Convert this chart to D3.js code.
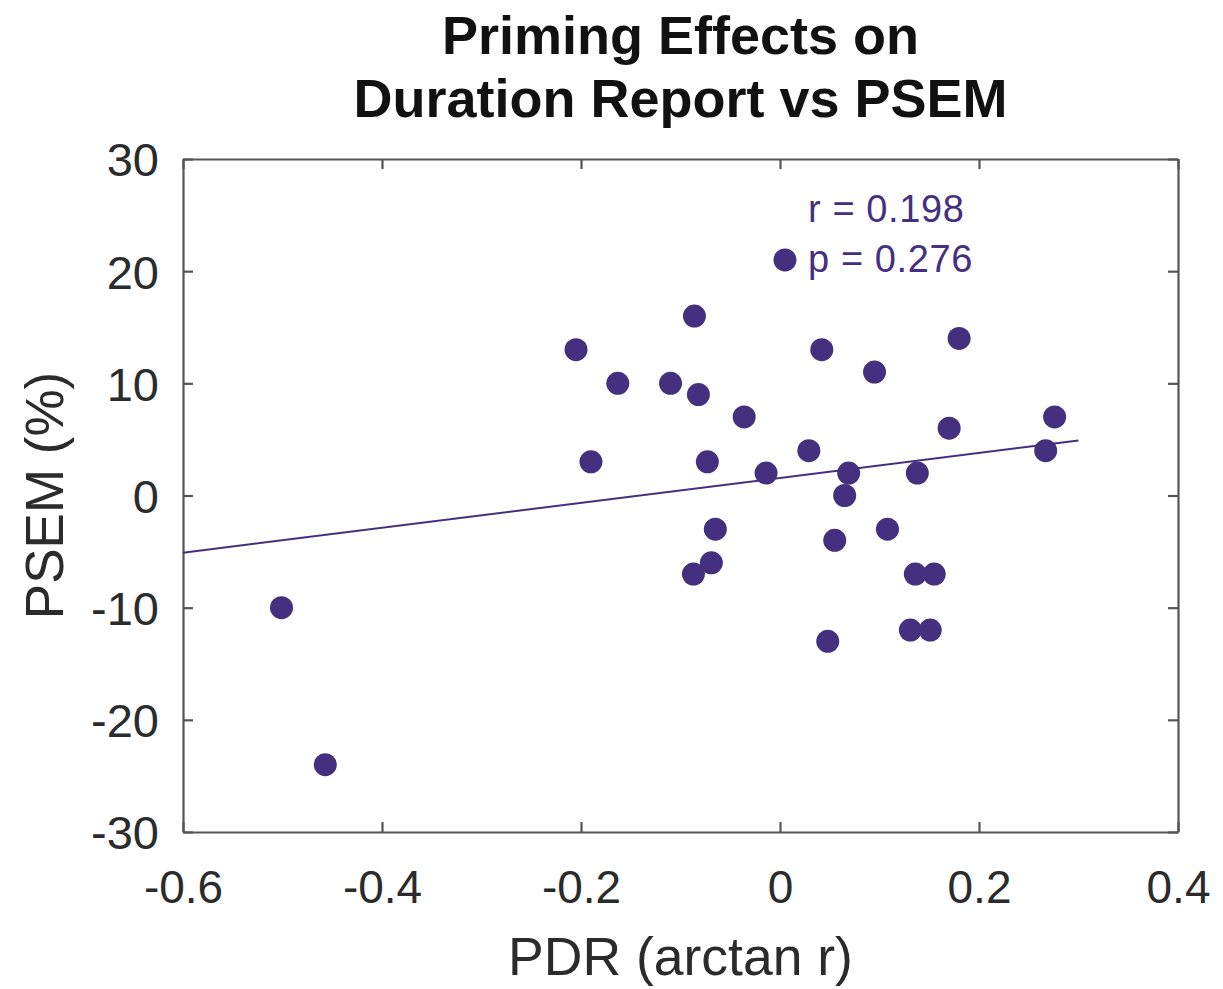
<!DOCTYPE html>
<html>
<head>
<meta charset="utf-8">
<script src="https://cdn.jsdelivr.net/npm/d3@7"></script>
<style>
  html, body { margin: 0; padding: 0; background: #fff; }
  svg { display: block; }
  text { font-family: "Liberation Sans", Arial, Helvetica, sans-serif; }
</style>
</head>
<body>
<svg id="chart" width="1223" height="989"></svg>
<script>
// ---- data ----
const pdr = [-0.205, -0.086, -0.163, -0.110, -0.082, -0.036, -0.190, -0.073, -0.014, 0.029,
             0.042, 0.095, 0.180, 0.170, 0.069, 0.138, 0.065, -0.065, 0.108, 0.055,
             -0.069, -0.087, 0.136, 0.155, 0.131, 0.151, 0.048, 0.005, 0.276, 0.267,
             -0.501, -0.457];
const psem = [13, 16, 10, 10, 9, 7, 3, 3, 2, 4,
              13, 11, 14, 6, 2, 2, 0, -3, -3, -4,
              -6, -7, -7, -7, -12, -12, -13, 21, 7, 4,
              -10, -24];
const fitX = [-0.6, 0.3];
const fitY = [-5.1, 4.9];
const xTicks = [-0.6, -0.4, -0.2, 0, 0.2, 0.4];
const yTicks = [-30, -20, -10, 0, 10, 20, 30];
const titleLines = ["Priming Effects on", "Duration Report vs PSEM"];
const statLines = ["r = 0.198", "p = 0.276"];
const xLabel = "PDR (arctan r)";
const yLabel = "PSEM (%)";

// ---- layout ----
const L = 183, R = 1178, T = 159, B = 832;
const dotColor = "#44307f";
const axisColor = "#555555";
const textColor = "#2b2b2b";

const svg = d3.select("#chart");
const x = d3.scaleLinear().domain([-0.6, 0.4]).range([L, R]);
const y = d3.scaleLinear().domain([-30, 30]).range([B, T]);

const fmt = d => d === 0 ? "0" : String(d);

// bottom axis
const gB = svg.append("g").attr("transform", `translate(0,${B})`)
  .call(d3.axisBottom(x).tickValues(xTicks).tickFormat(fmt).tickSizeInner(-10).tickSizeOuter(0).tickPadding(0));
gB.selectAll("text").attr("y", 71).attr("dy", null)
  .style("font-size", "46px").attr("fill", textColor);

// left axis
const gL = svg.append("g").attr("transform", `translate(${L},0)`)
  .call(d3.axisLeft(y).tickValues(yTicks).tickFormat(fmt).tickSizeInner(-10).tickSizeOuter(0).tickPadding(0));
gL.selectAll("text").attr("x", -24).attr("dy", "0.36em")
  .style("font-size", "47px").attr("fill", textColor);

// top axis (no labels)
svg.append("g").attr("transform", `translate(0,${T})`)
  .call(d3.axisTop(x).tickValues(xTicks).tickFormat("").tickSizeInner(-10).tickSizeOuter(0));
// right axis (no labels)
svg.append("g").attr("transform", `translate(${R},0)`)
  .call(d3.axisRight(y).tickValues(yTicks).tickFormat("").tickSizeInner(-10).tickSizeOuter(0));

svg.selectAll(".domain").attr("stroke", axisColor).attr("stroke-width", 2.2);
svg.selectAll(".tick line").attr("stroke", axisColor).attr("stroke-width", 2.2);

// fit line
svg.append("path")
  .datum(fitX.map((v, i) => [v, fitY[i]]))
  .attr("d", d3.line().x(d => x(d[0])).y(d => y(d[1])))
  .attr("stroke", dotColor).attr("stroke-width", 2).attr("fill", "none");

// dots
svg.append("g").selectAll("circle")
  .data(pdr.map((v, i) => [v, psem[i]]))
  .join("circle")
  .attr("cx", d => x(d[0])).attr("cy", d => y(d[1]))
  .attr("r", 11.5).attr("fill", dotColor);

// stats text
svg.append("g").selectAll("text").data(statLines).join("text")
  .attr("x", 808).attr("y", (d, i) => 222 + i * 50)
  .style("font-size", "38px").style("letter-spacing", "0.6px")
  .attr("fill", dotColor).text(d => d);

// title
svg.append("g").selectAll("text").data(titleLines).join("text")
  .attr("x", (L + R) / 2).attr("y", (d, i) => 54 + i * 63)
  .attr("text-anchor", "middle").style("font-size", "54px").style("font-weight", "bold")
  .attr("fill", "#111").text(d => d);

// axis labels
svg.append("text").attr("x", (L + R) / 2).attr("y", 975)
  .attr("text-anchor", "middle").style("font-size", "53.5px").attr("fill", textColor).text(xLabel);
svg.append("text").attr("transform", `translate(63,${(T + B) / 2}) rotate(-90)`)
  .attr("text-anchor", "middle").style("font-size", "53px").attr("fill", textColor).text(yLabel);
</script>
</body>
</html>
